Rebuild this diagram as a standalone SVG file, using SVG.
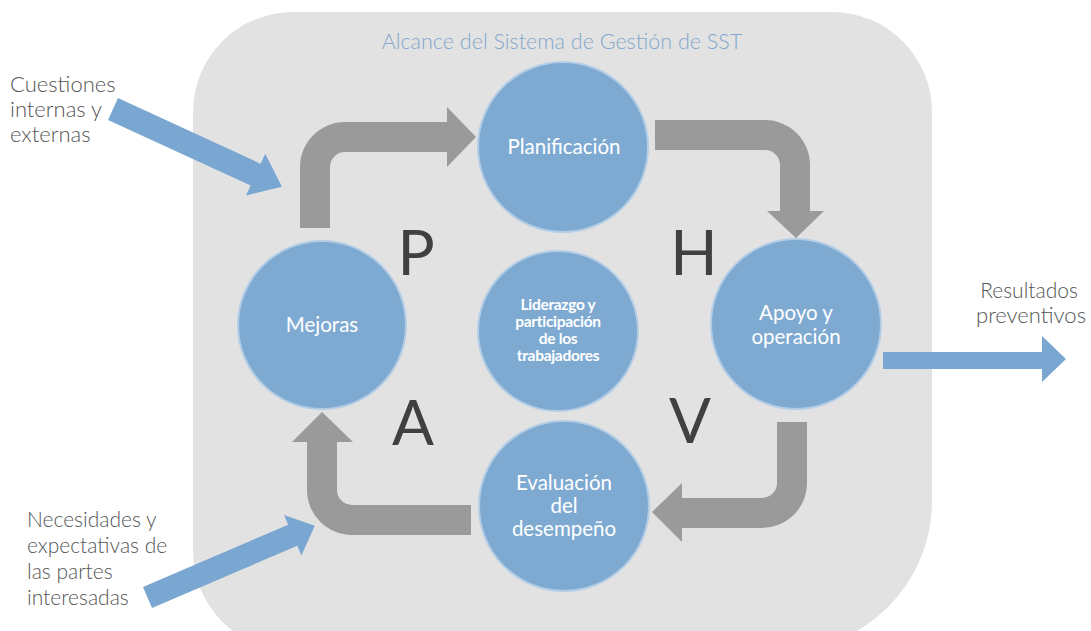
<svg xmlns="http://www.w3.org/2000/svg" width="1091" height="631" viewBox="0 0 1091 631">
<style>
.circ{fill:#7eaad2;stroke:#b3cde6;stroke-width:2}
.ctext{font-family:Lato,"Liberation Sans",sans-serif;font-size:20.5px;fill:#ffffff;text-anchor:middle}
.side{font-family:Lato,"Liberation Sans",sans-serif;font-weight:300;font-size:22px;fill:#555555}
.side21{font-size:21px}
.big{font-family:Lato,"Liberation Sans",sans-serif;font-size:62px;fill:#404040;text-anchor:middle}
.garrow{fill:#9a9a9a}
.barrow{fill:#7aa7d2}
</style>
<rect width="1091" height="631" fill="#ffffff"/>
<g id="scope">
<path d="M293,12 L832,12 A100,100 0 0 1 932,112 L932,501 A150,150 0 0 1 782,651 L293,651 A100,100 0 0 1 193,551 L193,112 A100,100 0 0 1 293,12 Z" fill="#e2e2e2"/>
<text x="562" y="49" font-family="Lato,'Liberation Sans',sans-serif" font-weight="300" font-size="21.5" fill="#84a7cd" text-anchor="middle">Alcance del Sistema de Gestión de SST</text>
</g>
<g id="connectors">
<path class="garrow" d="M300,228 L300,167 A45,45 0 0 1 345,122 L447,122 L447,107 L476,137 L447,167 L447,152 L345,152 A15,15 0 0 0 330,167 L330,228 Z"/>
<path class="garrow" d="M655,120 L765,120 A45,45 0 0 1 810,165 L810,211 L824,211 L796,238 L767,211 L780,211 L780,165 A15,15 0 0 0 765,150 L655,150 Z"/>
<path class="garrow" d="M777,422 L807,422 L807,483 A45,45 0 0 1 762,528 L682,528 L682,542 L652,512 L682,483 L682,498 L762,498 A15,15 0 0 0 777,483 Z"/>
<path class="garrow" d="M471,505 L471,535 L352,535 A45,45 0 0 1 307,490 L307,442 L292,442 L322,412 L353,442 L337,442 L337,490 A15,15 0 0 0 352,505 Z"/>
<polygon class="barrow" transform="translate(113,109) rotate(24.7)" points="0,-12 157,-12 157,-23 186,0 157,23 157,12 0,12"/>
<polygon class="barrow" transform="translate(147.5,597.5) rotate(-23.2)" points="0,-11.5 158,-11.5 158,-22 182,0 158,22 158,11.5 0,11.5"/>
<polygon class="barrow" points="883,352 1042,352 1042,336 1066,359 1042,382 1042,369 883,369"/>
</g>
<g id="input-cuestiones">
<text class="side" x="10" y="92">Cuestiones</text>
<text class="side" x="10" y="117">internas y</text>
<text class="side" x="10" y="142">externas</text>
</g>
<g id="input-necesidades">
<text class="side side21" x="27" y="527">Necesidades y</text>
<text class="side side21" x="27" y="553">expectativas de</text>
<text class="side side21" x="27" y="579">las partes</text>
<text class="side side21" x="27" y="605">interesadas</text>
</g>
<g id="output-resultados">
<text class="side side21" x="1029" y="298" text-anchor="middle">Resultados</text>
<text class="side" x="1031" y="323" text-anchor="middle">preventivos</text>
</g>
<g id="planificacion">
<circle class="circ" cx="563" cy="147" r="85"/>
<text class="ctext" x="564" y="154">Planificación</text>
</g>
<g id="mejoras">
<circle class="circ" cx="322" cy="325" r="84"/>
<text class="ctext" x="322" y="332">Mejoras</text>
</g>
<g id="apoyo">
<circle class="circ" cx="796" cy="324" r="85"/>
<text class="ctext" x="796" y="320">Apoyo y</text>
<text class="ctext" x="796" y="344">operación</text>
</g>
<g id="evaluacion">
<circle class="circ" cx="564" cy="506" r="85"/>
<text class="ctext" x="564" y="490">Evaluación</text>
<text class="ctext" x="564" y="513">del</text>
<text class="ctext" x="564" y="536">desempeño</text>
</g>
<g id="liderazgo">
<circle class="circ" cx="558" cy="331" r="80"/>
<g font-family="Lato,'Liberation Sans',sans-serif" font-weight="700" font-size="15.5" fill="#ffffff" text-anchor="middle" letter-spacing="-0.3">
<text x="558" y="310">Liderazgo y</text>
<text x="558" y="327">participación</text>
<text x="558" y="344">de los</text>
<text x="558" y="361">trabajadores</text>
</g>
</g>
<g id="phva">
<text class="big" x="416" y="275">P</text>
<text class="big" x="694" y="275">H</text>
<text class="big" x="413" y="445">A</text>
<text class="big" x="690" y="443">V</text>
</g>
</svg>
